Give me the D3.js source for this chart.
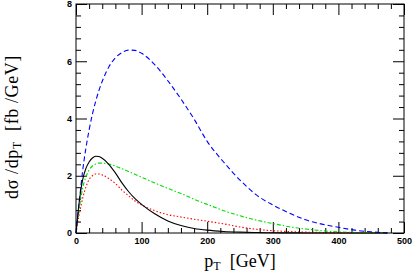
<!DOCTYPE html>
<html>
<head>
<meta charset="utf-8">
<script src="https://cdn.jsdelivr.net/npm/d3@7"></script>
<style>
  body { margin: 0; background: #fff; }
  svg { display: block; }
  .tick text { font-family: "Liberation Sans", Arial, sans-serif; font-size: 9px; font-weight: bold; fill: #000; }
  .lbl { font-family: "Liberation Serif", serif; font-size: 18px; fill: #000; white-space: pre; }
</style>
</head>
<body>
<svg id="chart"></svg>
<script>
// values (pT in GeV, dsigma/dpT in fb/GeV)
var ptGrid = [0, 5, 10, 15, 20, 25, 30, 35, 40, 50, 60, 70, 80, 90, 100, 120, 140, 160, 180, 200,
              225, 250, 275, 300, 325, 350, 375, 400, 425, 450, 475];
var blackSolid = [0, 1.1, 1.85, 2.25, 2.48, 2.62, 2.68, 2.67, 2.61, 2.4, 2.1, 1.75, 1.45, 1.2, 1.0,
                  0.67, 0.42, 0.26, 0.16, 0.1, 0.055, 0.03, 0.015, 0.008, 0.004, 0.002, 0.001, 0, 0, 0, 0];
var blueDashed = [0, 1.1, 2.15, 2.95, 3.6, 4.15, 4.6, 4.98, 5.3, 5.8, 6.12, 6.3, 6.39, 6.38, 6.28,
                  5.88, 5.32, 4.68, 3.98, 3.2, 2.48, 1.85, 1.33, 0.98, 0.7, 0.46, 0.31, 0.2, 0.1, 0.04, 0];
var greenDashDot = [0, 0.85, 1.55, 1.95, 2.2, 2.34, 2.41, 2.44, 2.44, 2.41, 2.34, 2.25, 2.15, 2.05, 1.95,
                    1.75, 1.56, 1.38, 1.18, 1.0, 0.78, 0.6, 0.45, 0.33, 0.22, 0.14, 0.08, 0.04, 0.02, 0.01, 0];
var redDotted = [0, 0.65, 1.2, 1.6, 1.87, 2.0, 2.06, 2.06, 2.03, 1.9, 1.73, 1.5, 1.3, 1.12, 0.98,
                 0.78, 0.64, 0.56, 0.48, 0.41, 0.32, 0.21, 0.13, 0.08, 0.05, 0.03, 0.02, 0.01, 0.005, 0, 0];

var xMajor = [0, 100, 200, 300, 400, 500];
var yMajor = [0, 2, 4, 6, 8];

var width = 415, height = 273;
var margin = {left: 76, right: 11, top: 4, bottom: 40};
var w = width - margin.left - margin.right;
var h = height - margin.top - margin.bottom;

var svg = d3.select("#chart").attr("width", width).attr("height", height);
var g = svg.append("g").attr("transform", "translate(" + margin.left + "," + margin.top + ")");

var x = d3.scaleLinear().domain([0, 500]).range([0, w]);
var y = d3.scaleLinear().domain([0, 8]).range([h, 0]);

var xMinor = d3.range(0, 501, 20).filter(function (v) { return v % 100 !== 0; });
var yMinor = d3.range(0, 8.01, 0.4).filter(function (v) { return Math.abs(v / 2 - Math.round(v / 2)) > 0.01; });

function strip(sel) { sel.select(".domain").remove(); sel.selectAll("line").attr("stroke", "#000"); }

// bottom
g.append("g").attr("transform", "translate(0," + h + ")")
  .call(d3.axisBottom(x).tickValues(xMajor).tickSize(-11).tickPadding(5).tickFormat(d3.format("d")))
  .call(strip);
g.append("g").attr("transform", "translate(0," + h + ")")
  .call(d3.axisBottom(x).tickValues(xMinor).tickSize(-5).tickFormat(""))
  .call(strip);
// top
g.append("g")
  .call(d3.axisTop(x).tickValues(xMajor).tickSize(-11).tickFormat(""))
  .call(strip);
g.append("g")
  .call(d3.axisTop(x).tickValues(xMinor).tickSize(-5).tickFormat(""))
  .call(strip);
// left
g.append("g")
  .call(d3.axisLeft(y).tickValues(yMajor).tickSize(-11).tickPadding(4).tickFormat(d3.format("d")))
  .call(strip);
g.append("g")
  .call(d3.axisLeft(y).tickValues(yMinor).tickSize(-5).tickFormat(""))
  .call(strip);
// right
g.append("g").attr("transform", "translate(" + w + ",0)")
  .call(d3.axisRight(y).tickValues(yMajor).tickSize(-11).tickFormat(""))
  .call(strip);
g.append("g").attr("transform", "translate(" + w + ",0)")
  .call(d3.axisRight(y).tickValues(yMinor).tickSize(-5).tickFormat(""))
  .call(strip);

g.append("rect").attr("width", w).attr("height", h)
  .attr("fill", "none").attr("stroke", "#000").attr("stroke-width", 1);

var series = [
  {vals: redDotted, color: "#ff0000", dash: "1.5,2"},
  {vals: greenDashDot, color: "#00e000", dash: "4,2,1.5,2"},
  {vals: blueDashed, color: "#0000ff", dash: "5,3"},
  {vals: blackSolid, color: "#000000", dash: null}
];

var line = d3.line()
  .x(function (d) { return x(d[0]); })
  .y(function (d) { return y(d[1]); })
  .curve(d3.curveMonotoneX);

series.forEach(function (s) {
  g.append("path")
    .datum(ptGrid.map(function (p, i) { return [p, s.vals[i]]; }))
    .attr("d", line)
    .attr("fill", "none")
    .attr("stroke", s.color)
    .attr("stroke-width", 1.1)
    .attr("stroke-dasharray", s.dash);
});

// axis titles
var xl = svg.append("text").attr("class", "lbl")
  .attr("x", 240).attr("y", 267).attr("text-anchor", "middle");
xl.append("tspan").text("p");
xl.append("tspan").attr("font-size", "12px").attr("dy", 3).text("T");
xl.append("tspan").attr("dy", -3).text("  [GeV]");

var yl = svg.append("text").attr("class", "lbl")
  .attr("transform", "translate(18," + 127 + ") rotate(-90)").attr("text-anchor", "middle")
  .attr("letter-spacing", "0.6px");
yl.append("tspan").text("dσ /dp");
yl.append("tspan").attr("font-size", "12px").attr("dy", 3).text("T");
yl.append("tspan").attr("dy", -3).text("  [fb /GeV]");
</script>
</body>
</html>
